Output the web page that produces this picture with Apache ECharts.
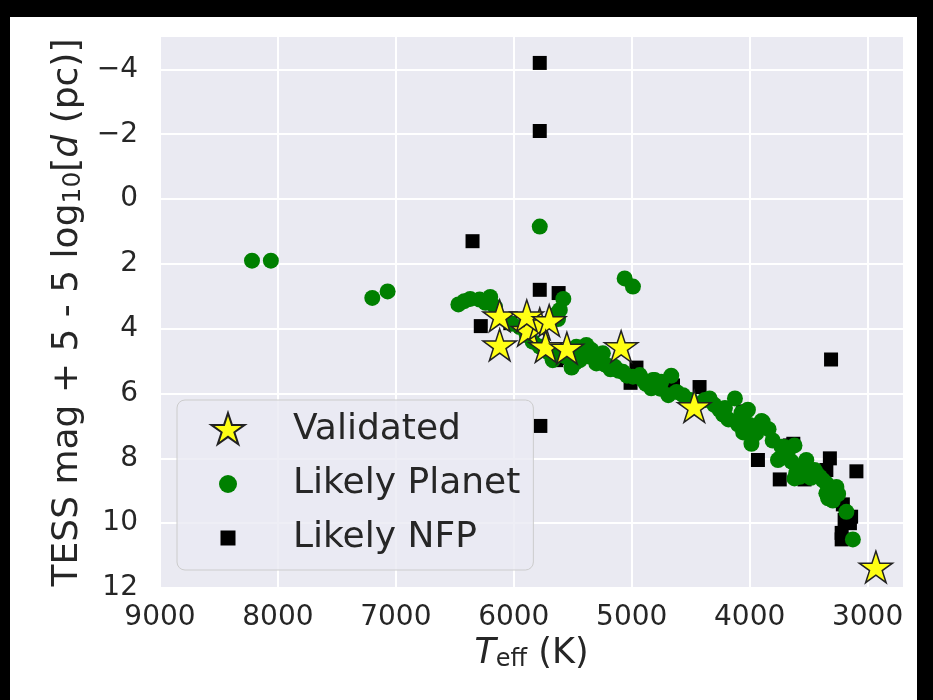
<!DOCTYPE html>
<html>
<head>
<meta charset="utf-8">
<script src="https://cdn.jsdelivr.net/npm/echarts@6/dist/echarts.min.js"></script>
<style>
  html, body { margin: 0; padding: 0; background: #ffffff; }
  #chart { width: 933px; height: 700px; }
</style>
</head>
<body>
<div id="chart"></div>
<script>
// Axis ticks
const xTicks = [9000, 8000, 7000, 6000, 5000, 4000, 3000];
const yTicks = [-4, -2, 0, 2, 4, 6, 8, 10, 12];

// [Teff (K), TESS mag + 5 - 5 log10(d)]
const likelyNFP = [
  [5780, -4.2], [5780, -2.1], [6350, 1.3], [5780, 2.8], [5620, 2.9],
  [6280, 3.92], [6030, 3.83], [5640, 4.97], [5630, 4.9], [5255, 4.82],
  [4960, 5.2], [5010, 5.67], [4650, 5.75], [4425, 5.8], [5775, 7.0],
  [4055, 6.55], [3930, 8.05], [3745, 8.65], [3535, 8.65], [3320, 8.0],
  [3095, 8.4], [3310, 4.95], [3630, 7.55], [3660, 7.6], [3350, 8.36],
  [3210, 9.42], [3195, 9.9], [3150, 10.0], [3220, 10.3], [3220, 10.5],
  [3140, 9.8], [3250, 9.2]
];

const likelyPlanet = [
  [8220, 1.9], [8060, 1.9], [7200, 3.05], [7070, 2.85], [5780, 0.85],
  [5060, 2.45], [4990, 2.7],
  [6470, 3.25], [6420, 3.15], [6370, 3.08], [6290, 3.1], [6240, 3.2],
  [6200, 3.02], [6160, 3.32],
  [5580, 3.08], [5610, 3.42], [5625, 3.7], [5640, 3.55],
  [6020, 3.85], [5950, 3.95], [5890, 4.2], [5840, 4.4], [5780, 4.55],
  [5700, 4.75], [5610, 4.8], [5670, 4.97], [5525, 4.9], [5470, 4.56],
  [5440, 4.97], [5385, 4.5], [5385, 4.76], [5360, 4.86], [5340, 4.66],
  [5510, 5.2], [5300, 5.07], [5300, 4.97], [5245, 4.76], [5215, 5.12],
  [5230, 5.1], [5158, 5.17], [5145, 5.17], [5075, 5.33], [4990, 5.48],
  [4932, 5.43], [4905, 5.58], [4820, 5.58], [4805, 5.58], [4835, 5.84],
  [4750, 5.64], [4665, 5.45], [4690, 6.05], [4565, 6.05], [4380, 6.2],
  [4340, 6.15], [4255, 6.5], [4225, 6.65], [4210, 6.45], [4125, 6.15],
  [4070, 6.6], [4028, 6.55], [4015, 6.5], [4100, 6.95], [4000, 6.97],
  [3900, 6.85], [3890, 6.87], [3970, 7.25], [3945, 7.23], [4055, 7.2],
  [3985, 7.55], [3805, 7.45], [3730, 7.64], [3705, 7.65], [3620, 7.6],
  [3760, 8.05], [3745, 8.0], [3645, 8.1], [3520, 8.05], [3605, 8.45],
  [3620, 8.62], [3575, 8.57], [3450, 8.36], [3435, 8.46], [3405, 8.57],
  [3380, 8.67], [3350, 8.77], [3265, 8.88], [3320, 9.03], [3350, 9.08],
  [3335, 9.23], [3295, 9.3], [3180, 9.65], [3125, 10.5],
  [5560, 4.85], [5480, 5.05], [5420, 4.85], [5270, 4.95], [5180, 5.25],
  [5110, 5.3], [5040, 5.45], [4880, 5.7], [4760, 5.85], [4620, 5.95],
  [4500, 6.2], [4300, 6.35], [4180, 6.8], [3840, 7.1], [3680, 7.85],
  [3560, 8.25], [3480, 8.6], [3250, 9.1]
];

const validated = [
  [5880, 4.1], [5780, 3.9],
  [6120, 3.65], [6120, 4.55], [5890, 3.65], [5700, 3.8], [5730, 4.6],
  [5550, 4.65], [5090, 4.6], [4470, 6.45], [2930, 11.4]
];

// five-pointed star outline (matplotlib '*' proportions), centred on (cx, cy)
function starOutline(cx, cy, R) {
  const inner = 0.381966;
  let d = '';
  for (let k = 0; k < 10; k++) {
    const a = -Math.PI / 2 + k * Math.PI / 5;
    const r = k % 2 === 0 ? R : R * inner;
    const x = (cx + r * Math.cos(a)).toFixed(2);
    const y = (cy + r * Math.sin(a)).toFixed(2);
    d += (k === 0 ? 'M' : 'L') + x + ' ' + y + ' ';
  }
  return d + 'Z';
}
// bounding points keep the star centred on its data point
const starSymbol = 'path://M-100 -100 M100 100 ' + starOutline(0, 0, 100);

// legend icons share one 100x34 frame so they line up in a column
const LW = 100, LH = 34, LCX = 40, LCY = 17;
const frame = 'M0 0 M' + LW + ' ' + LH + ' ';
const legendStar = 'path://' + frame + starOutline(LCX, LCY, 17.5);
const legendCircle = 'path://' + frame +
  'M' + (LCX - 9) + ' ' + LCY + ' A9 9 0 1 1 ' + (LCX + 9) + ' ' + LCY +
  ' A9 9 0 1 1 ' + (LCX - 9) + ' ' + LCY + ' Z';
const legendSquare = 'path://' + frame +
  'M' + (LCX - 7.5) + ' ' + (LCY - 7.5) + ' L' + (LCX + 7.5) + ' ' + (LCY - 7.5) +
  ' L' + (LCX + 7.5) + ' ' + (LCY + 7.5) + ' L' + (LCX - 7.5) + ' ' + (LCY + 7.5) + ' Z';

const FONT = 'DejaVu Sans';
const TEXT = '#262626';

const fmtTick = v => (v < 0 ? '\u2212' + (-v) : String(v));

const chart = echarts.init(document.getElementById('chart'), null, { renderer: 'canvas' });
chart.setOption({
  animation: false,
  backgroundColor: '#ffffff',
  textStyle: { fontFamily: FONT },
  graphic: [
    { type: 'rect', left: 0, top: 0, shape: { width: 933, height: 17 }, style: { fill: '#000' }, z: 100 },
    { type: 'rect', left: 0, top: 0, shape: { width: 10, height: 700 }, style: { fill: '#000' }, z: 100 },
    { type: 'rect', left: 917, top: 0, shape: { width: 16, height: 700 }, style: { fill: '#000' }, z: 100 }
  ],
  grid: {
    left: 160, top: 37, width: 743, height: 551,
    show: true, backgroundColor: '#EAEAF2', borderWidth: 0,
    containLabel: false
  },
  xAxis: {
    type: 'value', inverse: true, min: 2700, max: 9000,
    axisLine: { show: false },
    axisTick: { show: false, customValues: xTicks },
    axisLabel: {
      customValues: xTicks, fontSize: 28, color: TEXT, fontFamily: FONT, margin: 16,
      formatter: v => String(v)
    },
    splitLine: { show: true, lineStyle: { color: '#ffffff', width: 2 } },
    name: '{it|T}{sub|eff} (K)',
    nameLocation: 'middle', nameGap: 48,
    nameTextStyle: {
      fontSize: 35, color: TEXT, fontFamily: FONT,
      rich: {
        it: { fontStyle: 'italic', fontSize: 35 },
        sub: { fontSize: 24, verticalAlign: 'bottom', lineHeight: 30 }
      }
    }
  },
  yAxis: {
    type: 'value', inverse: true, min: -5, max: 12,
    axisLine: { show: false },
    axisTick: { show: false, customValues: yTicks },
    axisLabel: {
      customValues: yTicks, fontSize: 28, color: TEXT, fontFamily: FONT, margin: 22,
      formatter: fmtTick
    },
    splitLine: { show: true, lineStyle: { color: '#ffffff', width: 2 } },
    name: 'TESS mag + 5 - 5 log{sub|10}[{it|d} (pc)]',
    nameLocation: 'middle', nameGap: 72, nameRotate: 90,
    nameTextStyle: {
      fontSize: 36, color: TEXT, fontFamily: FONT,
      rich: {
        it: { fontStyle: 'italic', fontSize: 36 },
        sub: { fontSize: 25, verticalAlign: 'bottom', lineHeight: 30 }
      }
    }
  },
  legend: {
    orient: 'vertical', left: 177, top: 400,
    padding: [10, 13, 12, 10],
    itemWidth: LW, itemHeight: LH, itemGap: 14,
    symbolKeepAspect: false,
    backgroundColor: 'rgba(234,234,242,0.8)',
    borderColor: '#cccccc', borderWidth: 1, borderRadius: 8,
    textStyle: { fontSize: 36, color: TEXT, fontFamily: FONT, lineHeight: 40 },
    data: [
      { name: 'Validated', icon: legendStar },
      { name: 'Likely Planet', icon: legendCircle },
      { name: 'Likely NFP', icon: legendSquare }
    ]
  },
  series: [
    {
      name: 'Likely NFP', type: 'scatter', data: likelyNFP,
      symbol: 'rect', symbolSize: 14, z: 2,
      itemStyle: { color: '#000000', opacity: 1 }
    },
    {
      name: 'Likely Planet', type: 'scatter', data: likelyPlanet,
      symbol: 'circle', symbolSize: 16, z: 3,
      itemStyle: { color: '#008000', opacity: 1 }
    },
    {
      name: 'Validated', type: 'scatter', data: validated,
      symbol: starSymbol, symbolSize: 35, symbolKeepAspect: true, z: 4,
      itemStyle: { color: '#FFFF14', borderColor: '#222222', borderWidth: 1.5, opacity: 1 }
    }
  ]
});
</script>
</body>
</html>
